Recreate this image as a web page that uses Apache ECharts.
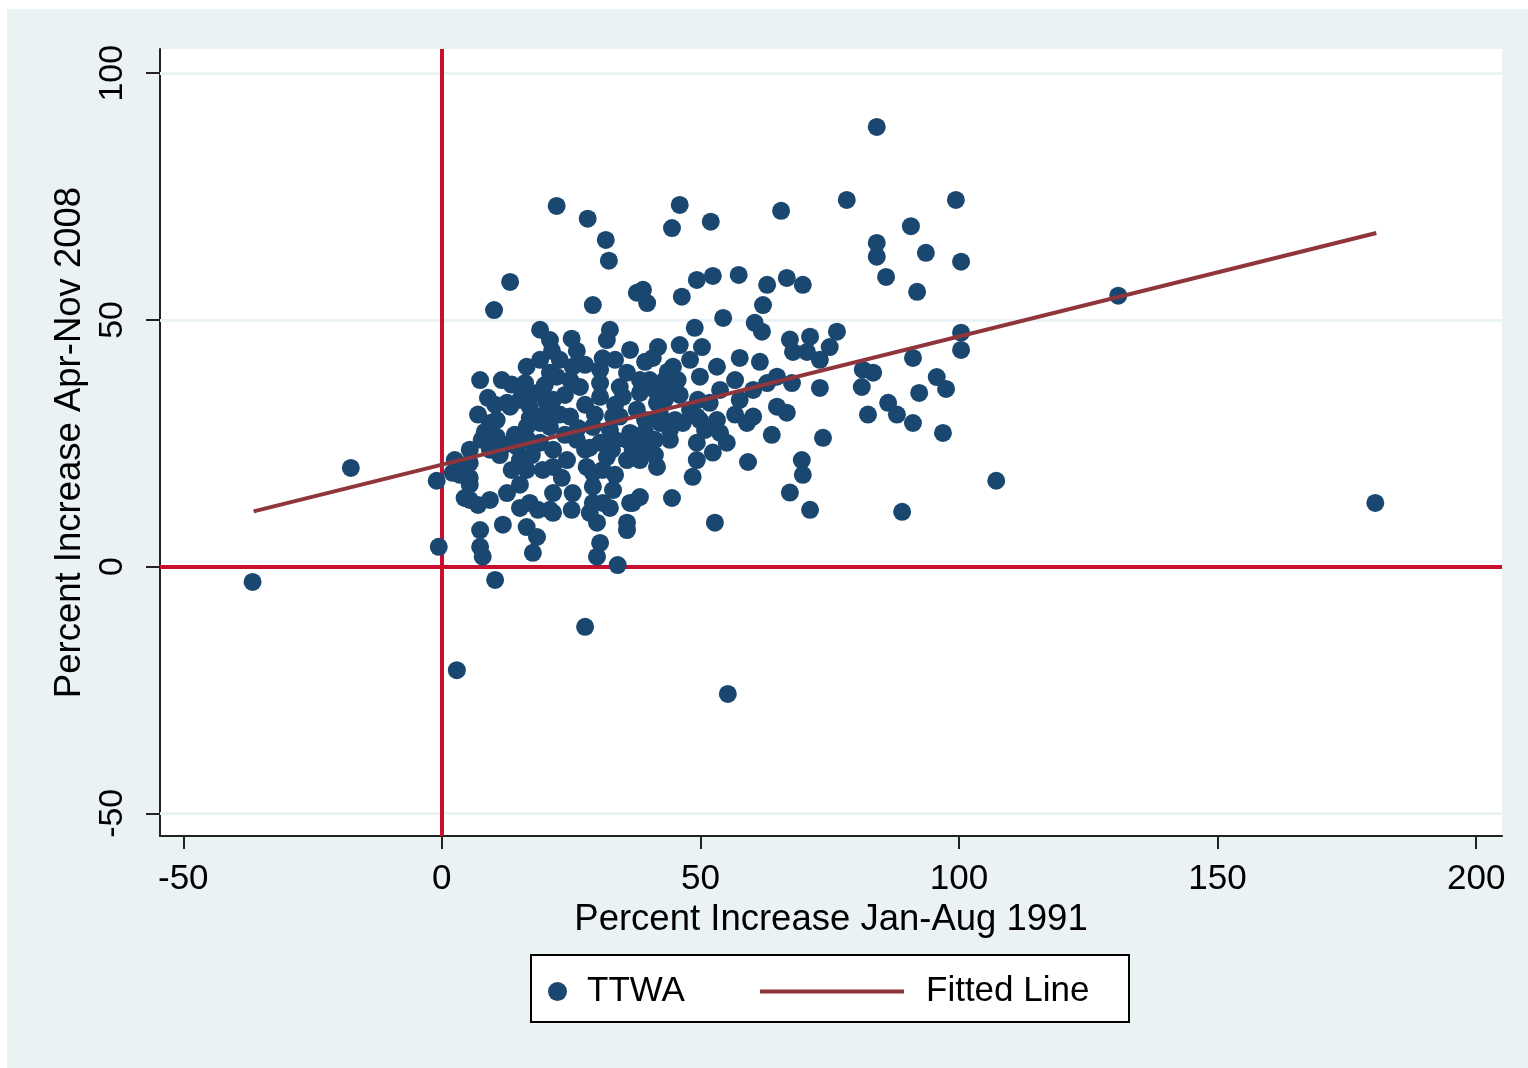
<!DOCTYPE html>
<html>
<head>
<meta charset="UTF-8">
<title>Percent increase 1991 vs 2008</title>
<script src="https://cdn.jsdelivr.net/npm/echarts@6.0.0/dist/echarts.min.js"></script>
<style>
  html, body { margin: 0; padding: 0; background: #fff; }
  #chart { width: 1528px; height: 1068px; }
</style>
</head>
<body>
<div id="chart"></div>
<script type="text/javascript">
// [Jan-Aug 1991 %, Apr-Nov 2008 %] per travel-to-work area
var ttwaSparse = [
  [-36.6,-3.1],[-17.6,20.0],[-1.0,17.4],[-0.6,4.0],[2.9,-21.0],[10.3,-2.7],[27.7,-12.2],[34.0,0.3],
  [55.3,-25.8],[84.1,89.1],[130.8,54.9],[180.5,12.9],[107.2,17.4],[89.0,11.1],[22.2,73.1],[28.2,70.5],
  [31.7,66.2],[32.3,62.0],[13.2,57.7],[10.1,52.0],[46.0,73.3],[44.5,68.6],[52.0,69.9],[65.6,72.1],
  [78.3,74.3],[99.4,74.3],[90.7,69.0],[84.1,65.6],[84.1,62.8],[93.6,63.6],[100.4,61.8],[85.9,58.7],
  [91.9,55.7],[100.4,47.4],[100.4,43.9],[91.1,42.3],[81.4,39.9],[83.4,39.3],[81.2,36.4],[95.7,38.4],
  [97.5,36.0],[92.3,35.2],[86.3,33.2],[88.0,30.8],[91.1,29.1],[82.4,30.8],[96.9,27.1],[73.7,26.1],
  [73.1,36.2]
];
var ttwaMid = [
  [38.9,56.1],[39.7,53.4],[46.4,54.7],[49.3,58.1],[52.4,58.9],[57.4,59.1],[62.9,57.1],[66.7,58.5],
  [69.8,57.1],[62.1,53.0],[54.4,50.4],[60.5,49.4],[61.9,47.6],[48.9,48.4],[36.4,43.9],[41.8,44.5],
  [40.8,42.3],[46.0,44.9],[50.3,44.5],[44.7,40.5],[53.2,40.5],[57.6,42.3],[61.5,41.5],[67.3,46.0],
  [71.2,46.6],[67.9,43.5],[70.6,43.5],[76.4,47.6],[75.0,44.5],[73.1,41.9],[45.6,37.8],[49.9,38.5],
  [53.8,35.8],[57.6,33.8],[60.2,35.8],[62.9,37.2],[64.8,38.5],[67.7,37.2],[35.0,34.4],[38.3,35.2],
  [41.6,33.2],[34.4,30.4],[42.2,29.1],[46.6,29.1],[49.3,30.4],[51.8,33.2],[53.2,29.7],[53.8,27.1],
  [59.0,29.1],[60.2,30.4],[64.8,32.4],[66.7,31.2],[63.8,26.7],[49.3,25.1],[52.4,23.1],[55.1,25.1],
  [36.4,27.1],[36.9,23.7],[39.7,23.7],[41.6,20.2],[49.3,21.6],[48.5,18.2],[59.2,21.2],[69.6,21.6],
  [69.8,18.6],[67.3,15.0],[71.2,11.5],[36.4,12.9],[38.3,14.1],[44.5,13.9],[52.8,8.9]
];
var ttwaCore = [
  [29.2,53.0],[37.7,55.5],[19.0,48.0],[20.9,45.9],[21.3,43.7],[25.1,46.2],[26.1,43.7],[32.5,48.0],
  [31.9,45.9],[31.1,42.2],[16.4,40.5],[7.4,37.8],[11.6,37.8],[22.2,38.5],[24.8,37.8],[26.7,36.4],
  [30.6,37.2],[34.4,36.4],[18.4,35.2],[15.1,33.8],[13.2,32.4],[17.0,32.4],[9.3,29.1],[5.4,13.5],
  [17.0,12.9],[20.9,11.5],[21.5,20.2],[28.0,20.2],[29.2,19.0],[7.4,7.4],
  [7.4,4.0],[7.9,2.0],[11.8,8.5],[16.4,8.0],[18.4,6.0],[17.6,2.8],[29.2,12.9],[30.0,8.9],
  [30.6,4.8],[30.0,2.0],[35.8,7.4],[36.9,12.9],[12.6,33.2],[15.7,34.4],[20.3,33.2],[10.6,26.3],
  [16.4,28.3],[19.0,29.1],[2.1,19.0],[5.4,21.0],[9.3,23.7],[14.5,24.3],[19.0,25.1],[13.5,19.6],
  [16.4,19.6],[19.5,19.6],[9.3,13.5],[12.6,14.9],[7.7,25.7],[7.0,30.8],[20.9,39.3],
  [25.3,40.5],[30.6,39.9],[35.8,39.3],[38.3,37.8],[21.5,33.8],[30.6,34.4],[20.9,28.3],[24.8,30.4],
  [29.2,28.3],[33.1,30.4],[37.7,31.8],[21.5,23.7],[26.1,25.7],[30.6,25.1],[35.8,25.7],[38.9,26.3],
  [31.9,22.2],[35.8,21.6],[21.5,14.9],[25.3,14.9],[29.2,16.2],[31.1,12.9],[21.5,10.9],[28.6,10.9],
  [35.8,8.9],[13.5,36.9],[23.8,34.8],[27.7,32.8],[33.5,32.8],[22.8,30.8],[23.8,26.7],
  [27.7,23.7],[33.5,25.7],[17.4,22.6],[24.2,21.6],[11.2,22.6],[15.1,16.6],[23.2,18.0],[33.5,18.6],
  [18.6,11.5],[25.1,11.5],[5.4,16.6],[3.5,18.6],[33.1,15.5],[39.3,29.7],[41.2,25.7],[43.1,33.8],
  [46.0,34.8],[48.0,31.8],[44.1,25.7],[50.9,27.7],[56.7,30.8],[56.7,37.8],[48.0,41.9],
  [43.1,37.8],[40.2,37.8],[22.8,41.9],[27.7,40.9],[19.0,41.9],
  [16.1,37.2],[19.9,36.8],[41.2,35.8],[43.7,36.2],[10.3,32.8],[49.5,33.8],[10.6,29.7],[17.0,30.1],
  [19.9,30.8],[29.6,30.8],[42.2,30.8],[45.1,29.7],[49.9,29.7],[8.3,27.3],[14.1,26.7],[26.3,28.1],
  [32.5,27.7],[39.3,27.3],[44.1,27.7],[12.2,24.7],[16.6,25.7],[28.6,24.1],[32.9,23.7],[2.5,21.6],
  [5.4,23.7],[15.1,21.6],[38.3,21.6],[41.2,22.6],[5.4,18.0],[31.1,19.6],[4.4,13.9],[7.0,12.5],
  [15.1,11.9],[32.5,11.9],[33.5,41.9],[39.3,41.5],[43.7,39.5],[8.9,34.2]
];
var fittedEnds = [[-36.4, 11.2], [180.7, 67.6]];
var xTicks = [-50, 0, 50, 100, 150, 200];
var yTicks = [-50, 0, 50, 100];
var yGridLines = [-50, 50, 100];

var ttwa = ttwaSparse.concat(ttwaMid, ttwaCore);

var chart = echarts.init(document.getElementById('chart'));
var font = 'Liberation Sans, Arial, sans-serif';

var option = {
  animation: false,
  backgroundColor: '#ffffff',
  textStyle: { fontFamily: font, color: '#000' },
  graphic: [
    { type: 'rect', z: -10, shape: { x: 7, y: 9, width: 1521, height: 1059 }, style: { fill: '#eaf2f3' } },
    { type: 'rect', z: 1, shape: { x: 531, y: 955, width: 598, height: 67 },
      style: { fill: '#ffffff', stroke: '#000', lineWidth: 2 } }
  ],
  grid: {
    left: 160, right: 26, top: 49, bottom: 232,
    show: true, backgroundColor: '#ffffff', borderWidth: 0,
    outerBoundsMode: 'none'
  },
  legend: [{
    data: [{ name: 'TTWA', icon: 'circle' }],
    left: 543, top: 969,
    itemWidth: 19, itemHeight: 19,
    textStyle: { fontSize: 35, color: '#000', fontFamily: font, padding: [0, 0, 0, 15] },
    selectedMode: false, z: 5
  }, {
    data: [{ name: 'Fitted Line', icon: 'rect' }],
    left: 755, top: 969,
    itemWidth: 144, itemHeight: 4,
    textStyle: { fontSize: 35, color: '#000', fontFamily: font, padding: [0, 0, 0, 17] },
    selectedMode: false, z: 5
  }],
  xAxis: {
    type: 'value', min: -54.5, max: 205,
    name: 'Percent Increase Jan-Aug 1991', nameLocation: 'middle', nameGap: 50,
    nameTextStyle: { fontSize: 36.5, color: '#000', fontFamily: font },
    axisLine: { show: true, onZero: false, lineStyle: { color: '#222', width: 2 } },
    axisTick: { show: true, length: 13, customValues: xTicks, lineStyle: { color: '#222', width: 2 } },
    axisLabel: { customValues: xTicks, fontSize: 35, color: '#000', margin: 26, fontFamily: font },
    splitLine: { show: false }
  },
  yAxis: {
    type: 'value', min: -54.6, max: 104.9,
    name: 'Percent Increase Apr-Nov 2008', nameLocation: 'middle', nameGap: 60,
    nameTextStyle: { fontSize: 36.5, color: '#000', fontFamily: font },
    axisLine: { show: true, onZero: false, lineStyle: { color: '#222', width: 2 } },
    axisTick: { show: true, length: 14, customValues: yTicks, lineStyle: { color: '#222', width: 2 } },
    axisLabel: { customValues: yTicks, rotate: 90, fontSize: 34, color: '#000', margin: 30, fontFamily: font },
    splitLine: { show: false }
  },
  series: [{
    // light grid lines
    type: 'line', data: [], silent: true,
    markLine: {
      silent: true, symbol: ['none', 'none'], z: 1,
      label: { show: false },
      lineStyle: { color: '#eaf2f3', width: 3, type: 'solid' },
      emphasis: { disabled: true },
      data: yGridLines.map(function (v) { return { yAxis: v }; })
    }
  }, {
    // zero reference lines
    type: 'line', data: [], silent: true,
    markLine: {
      silent: true, symbol: ['none', 'none'], z: 2,
      label: { show: false },
      lineStyle: { color: '#c8102e', width: 4, type: 'solid' },
      emphasis: { disabled: true },
      data: [{ xAxis: 0 }, { yAxis: 0 }]
    }
  }, {
    name: 'TTWA', type: 'scatter', z: 3,
    symbol: 'circle', symbolSize: 18,
    itemStyle: { color: '#1a476f', opacity: 1 },
    emphasis: { disabled: true },
    data: ttwa
  }, {
    name: 'Fitted Line', type: 'line', z: 4,
    symbol: 'none', showSymbol: false,
    lineStyle: { color: '#90353b', width: 4 },
    itemStyle: { color: '#90353b' },
    emphasis: { disabled: true },
    data: fittedEnds
  }]
};

chart.setOption(option);
</script>
</body>
</html>
